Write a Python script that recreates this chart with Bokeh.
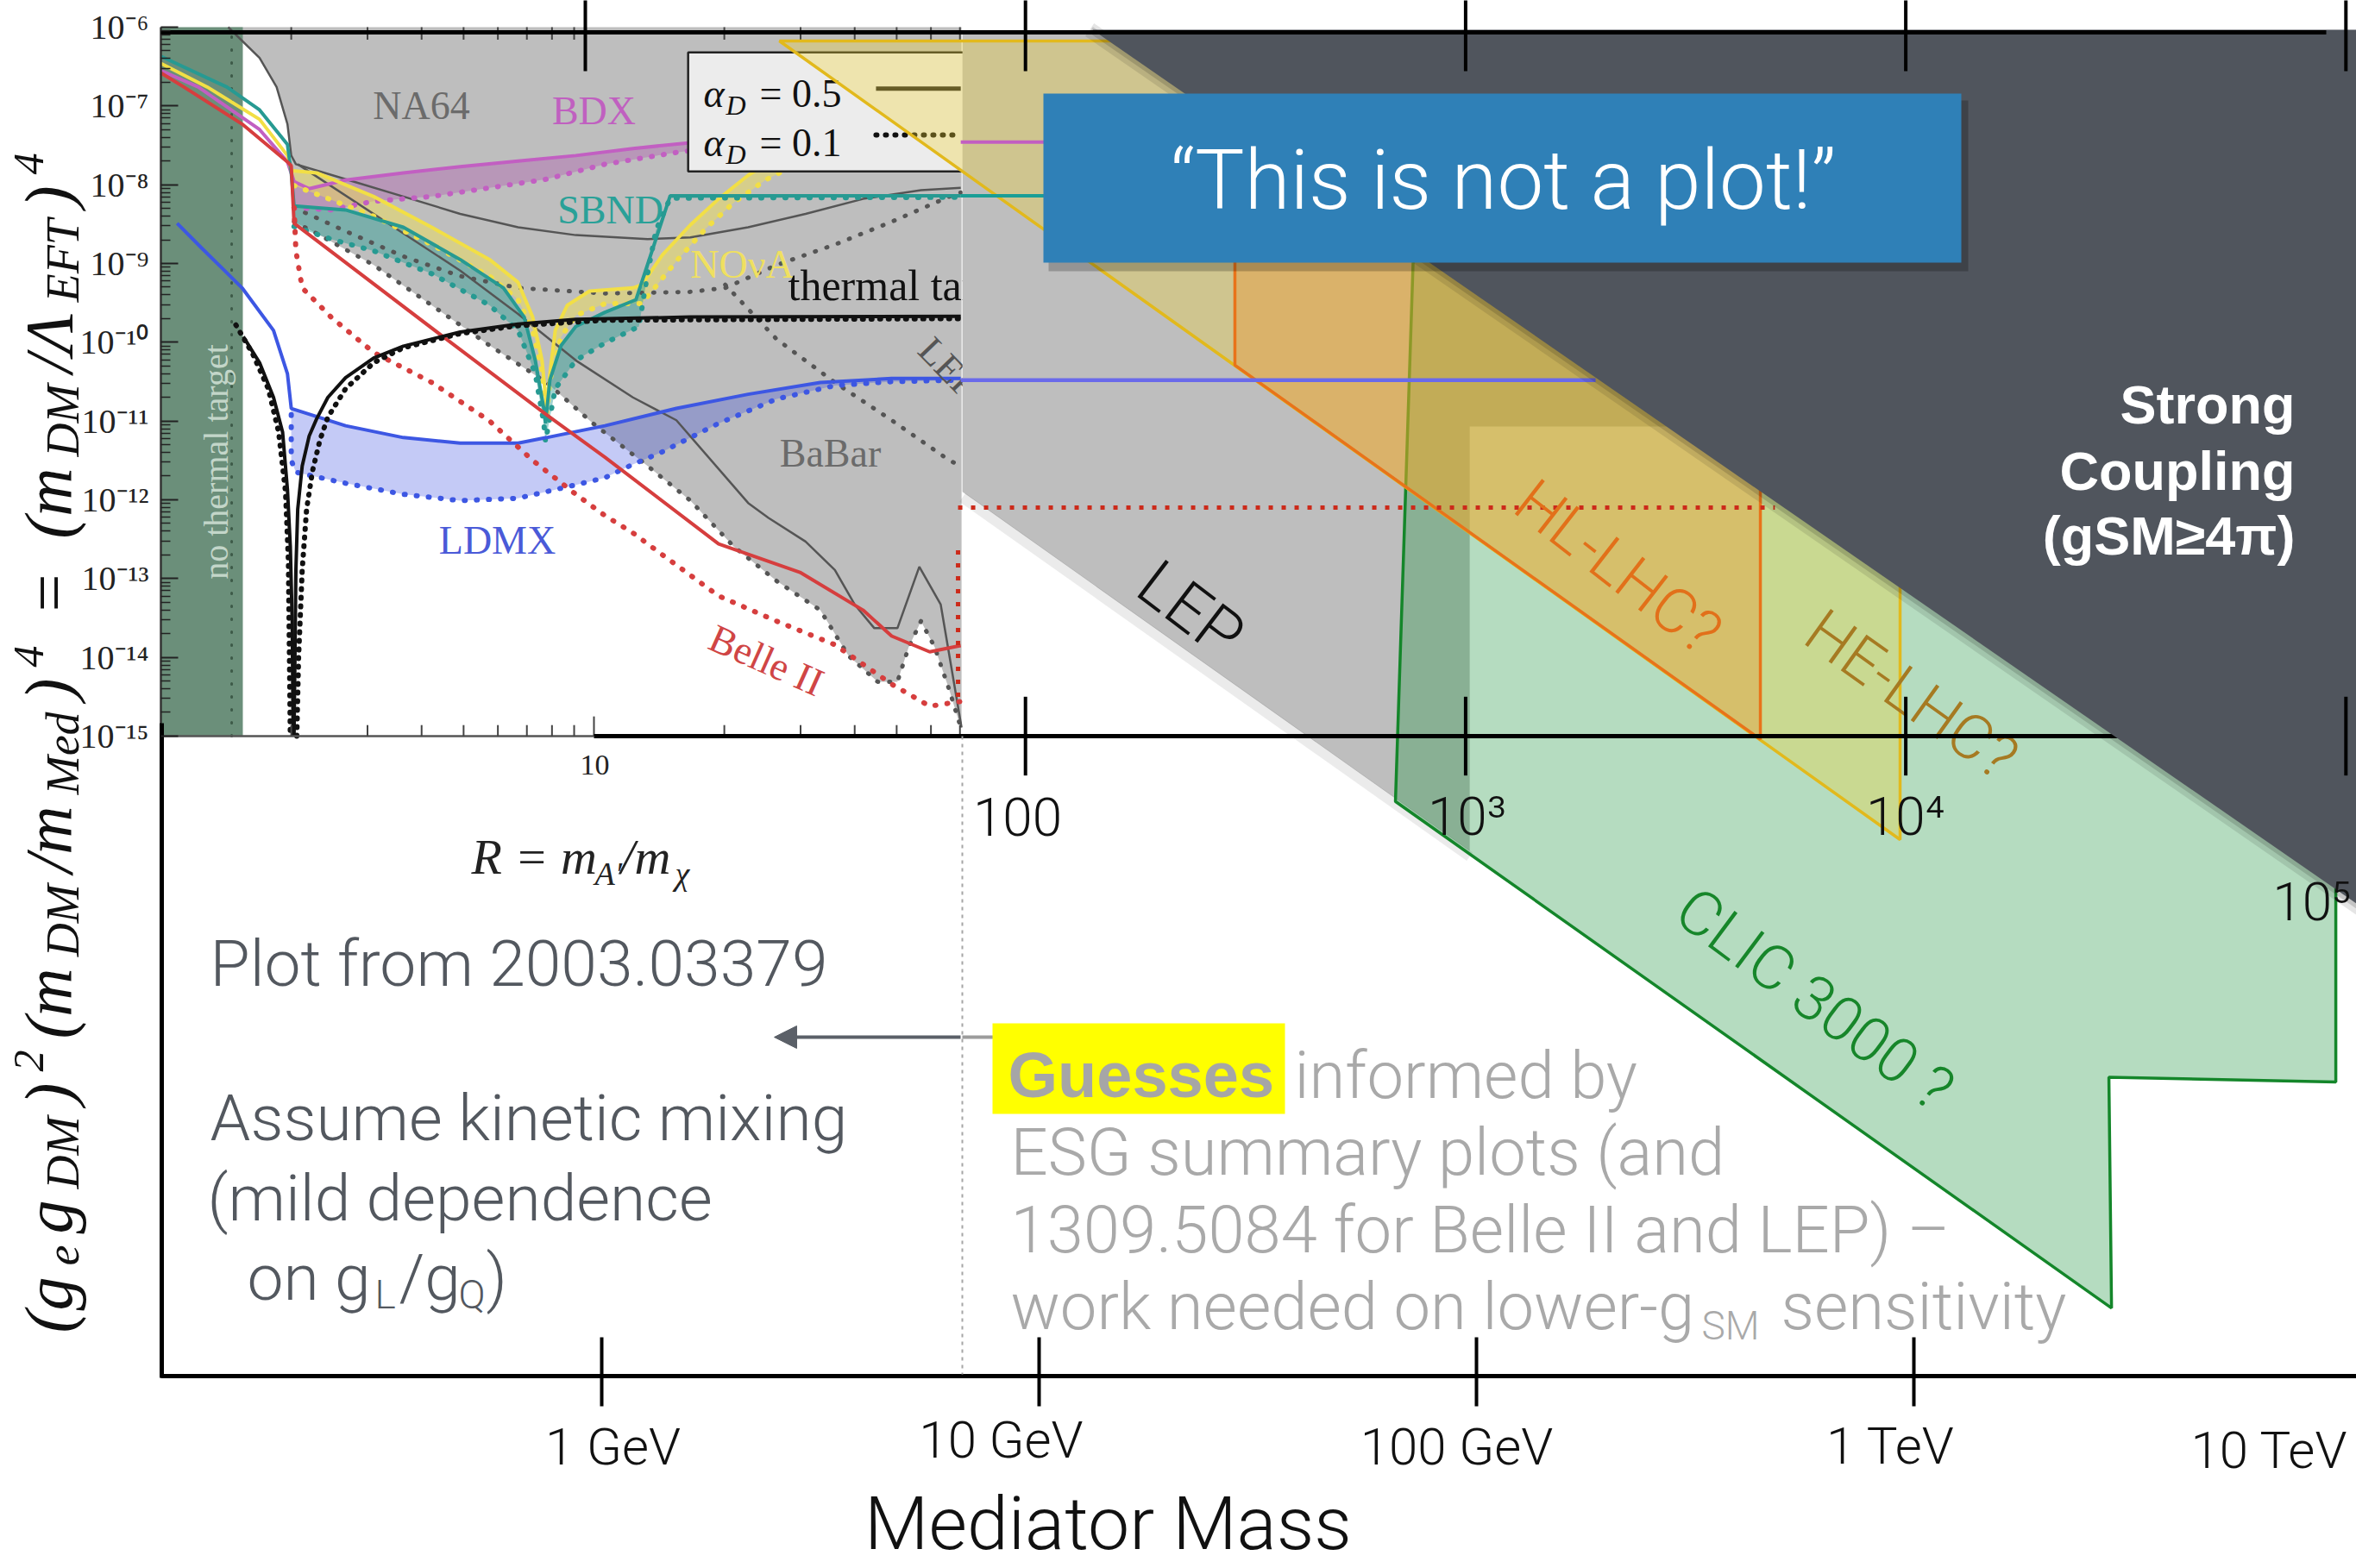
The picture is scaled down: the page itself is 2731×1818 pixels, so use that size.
import math

from bokeh.core.properties import value
from bokeh.embed import file_html
from bokeh.models import (Arrow, CustomJSTickFormatter, FixedTicker, LogAxis,
                          LogScale, NormalHead, Range1d)
from bokeh.plotting import figure
from bokeh.resources import INLINE

# ------------------------------------------------------------------
# Inset: thermal-target plane versus R = m_A'/m_chi
# every coupling is stored as log10[(g_e g_DM)^2 (m_DM/m_Med)^4]
# ------------------------------------------------------------------

# grey union of existing limits
excl_R = [1.43, 1.69, 1.85, 1.96, 2.00, 2.03, 2.29, 3.10, 4.22, 5.74, 7.77, 9.95, 13.3,
          16.7, 21.0, 26.4, 33.3, 38.7, 45.2, 50.2, 53.3, 56.9, 61.2, 66.2, 70.3, 70.6, 70.6]
excl_lg = [-6.00, -6.39, -6.76, -7.23, -7.63, -8.47, -8.62, -9.02, -9.53, -10.04, -10.51,
           -11.03, -11.57, -12.01, -12.59, -13.03, -13.40, -13.98, -14.31, -14.31, -13.87,
           -13.54, -13.87, -14.42, -14.89, -14.89, -6.00]

na64_R = [1.43, 1.69, 1.85, 1.96, 2.00, 2.05, 2.67, 3.63, 4.91, 6.68, 9.08, 13.3, 16.7,
          22.7, 30.8, 41.8, 56.9, 70.3]
na64_lg = [-6.00, -6.39, -6.76, -7.23, -7.63, -7.74, -7.93, -8.15, -8.37, -8.54, -8.64,
           -8.69, -8.67, -8.54, -8.37, -8.18, -8.07, -8.04]
na64_a01_R = [2.03, 2.67, 3.63, 4.91, 6.68, 10.6, 16.7, 20.1, 26.4, 36.0, 48.7, 66.2, 70.3]
na64_a01_lg = [-8.29, -8.59, -8.91, -9.16, -9.31, -9.38, -9.36, -9.31, -9.02, -8.76, -8.47,
               -8.15, -8.10]

babar_R = [2.07, 4.91, 6.68, 9.08, 12.3, 15.5, 22.7, 25.3, 30.8, 36.0, 40.0, 44.4, 50.2,
           56.4, 63.2, 70.6]
babar_lg = [-7.74, -9.09, -9.64, -10.23, -10.70, -10.99, -12.04, -12.23, -12.53, -12.89,
            -13.33, -13.63, -13.63, -12.85, -13.33, -14.89]
babar_a01_R = [20.1, 26.4, 36.0, 48.7, 66.2, 70.3]
babar_a01_lg = [-9.27, -9.96, -10.51, -10.99, -11.50, -11.57]

thermal_lo_R = [1.55, 1.69, 1.82, 1.91, 1.96, 1.99, 2.01, 2.02]
thermal_lo_lg = [-9.93, -10.26, -10.70, -11.14, -11.87, -12.59, -13.54, -15.00]
thermal_hi_R = [2.03, 2.04, 2.05, 2.07, 2.12, 2.20, 2.29, 2.43, 2.67, 3.10, 3.63, 4.91,
                6.68, 9.08, 16.7, 70.3]
thermal_hi_lg = [-15.00, -13.98, -12.89, -12.12, -11.57, -11.19, -10.97, -10.70, -10.45,
                 -10.20, -10.05, -9.87, -9.77, -9.71, -9.68, -9.67]
thermal_lo01_R = [1.49, 1.63, 1.77, 1.87, 1.94, 1.97, 1.99]
thermal_lo01_lg = [-9.78, -10.15, -10.59, -11.14, -11.90, -12.78, -15.00]
thermal_hi01_R = [2.06, 2.08, 2.12, 2.17, 2.24, 2.33, 2.43, 2.67, 3.10, 3.63, 4.91, 6.68,
                  10.6, 70.3]
thermal_hi01_lg = [-15.00, -13.98, -12.89, -12.12, -11.63, -11.24, -10.95, -10.59, -10.26,
                   -10.07, -9.89, -9.79, -9.72, -9.70]

belle_R = [1.00, 1.13, 1.54, 1.96, 2.00, 2.03, 4.56, 7.77, 10.6, 19.4, 29.9, 41.8, 48.7,
           59.6, 70.3]
belle_lg = [-6.58, -6.76, -7.23, -7.71, -7.76, -8.49, -9.96, -10.92, -11.46, -12.56,
            -12.92, -13.40, -13.73, -13.93, -13.85]
belle01_R = [2.03, 2.05, 2.12, 2.47, 3.10, 4.22, 5.74, 7.22, 9.08, 10.6, 12.3, 14.4, 19.4,
             26.4, 36.0, 48.7, 59.6, 70.3]
belle01_lg = [-8.29, -8.84, -9.31, -9.68, -10.13, -10.51, -11.00, -11.50, -11.93, -12.20,
              -12.42, -12.70, -13.22, -13.54, -13.84, -14.34, -14.62, -14.56]

ldmx_R = [1.09, 1.24, 1.54, 1.82, 1.96, 2.00, 2.67, 3.63, 4.91, 6.68, 7.77, 10.6, 15.5,
          22.7, 33.3, 48.7, 70.3]
ldmx_lg = [-8.49, -8.80, -9.31, -9.85, -10.40, -10.84, -11.06, -11.21, -11.28, -11.28,
           -11.21, -11.06, -10.84, -10.66, -10.51, -10.46, -10.46]
ldmx01_R = [2.00, 2.00, 2.05, 2.67, 3.63, 4.91, 6.68, 9.08, 10.6, 12.3, 14.4, 16.7, 19.4,
            26.4, 36.0, 48.7, 70.3]
ldmx01_lg = [-10.92, -11.50, -11.65, -11.79, -11.93, -12.01, -11.98, -11.81, -11.72,
             -11.55, -11.39, -11.21, -11.03, -10.72, -10.55, -10.50, -10.48]

bdx_R = [1.00, 1.22, 1.69, 1.96, 2.03, 2.20, 2.67, 3.63, 4.91, 6.68, 9.08, 12.3, 16.5,
         26.4, 70.3]
bdx_lg = [-6.55, -6.76, -7.30, -7.71, -7.96, -8.05, -7.94, -7.85, -7.77, -7.70, -7.63,
          -7.54, -7.47, -7.46, -7.46]
bdx01_R = [2.03, 2.47, 3.10, 4.22, 5.74, 7.77, 10.6, 15.5, 21.0, 70.3]
bdx01_lg = [-8.29, -8.32, -8.21, -8.15, -8.04, -7.93, -7.74, -7.59, -7.50, -7.46]

nova_R = [1.00, 1.28, 1.69, 1.96, 2.00, 2.29, 3.10, 4.22, 5.74, 6.68, 7.22, 7.59, 7.73,
          7.77, 7.91, 8.14, 8.68, 9.77, 12.3, 12.9, 14.4, 16.7, 19.4, 22.7, 26.4, 30.8,
          38.7, 70.3]
nova_lg = [-6.46, -6.76, -7.17, -7.63, -7.82, -7.85, -8.15, -8.54, -8.95, -9.24, -9.68,
           -10.23, -10.70, -10.92, -10.40, -9.85, -9.53, -9.35, -9.31, -9.27, -8.89,
           -8.51, -8.18, -7.88, -7.66, -7.52, -7.45, -7.43]
nova01_R = [2.03, 3.10, 4.22, 5.74, 6.68, 7.22, 7.59, 7.77, 7.91, 8.40, 9.08, 10.6, 12.9,
            15.5, 18.1, 21.0, 24.9, 29.9, 36.0, 41.8, 70.3]
nova01_lg = [-8.01, -8.40, -8.76, -9.16, -9.46, -9.85, -10.37, -10.92, -10.48, -9.93,
             -9.66, -9.51, -9.51, -8.97, -8.56, -8.23, -7.94, -7.72, -7.60, -7.52, -7.46]

sbnd_R = [1.00, 1.42, 1.69, 1.96, 2.00, 2.03, 2.67, 3.63, 4.91, 6.18, 6.90, 7.32, 7.66,
          7.73, 7.91, 8.40, 9.08, 10.6, 12.5, 15.0, 70.3]
sbnd_lg = [-6.37, -6.76, -7.05, -7.49, -7.85, -8.27, -8.32, -8.54, -8.95, -9.31, -9.68,
           -10.23, -10.84, -11.03, -10.48, -10.04, -9.80, -9.62, -9.46, -8.14, -8.14]
sbnd01_R = [2.03, 2.47, 3.10, 4.22, 5.74, 6.68, 7.32, 7.66, 7.73, 8.14, 9.08, 10.6, 12.7,
            13.3, 13.9, 15.0, 70.3]
sbnd01_lg = [-8.53, -8.69, -8.84, -9.13, -9.53, -9.85, -10.40, -11.03, -11.26, -10.59,
             -10.23, -10.01, -9.80, -9.13, -8.58, -8.17, -8.16]

no_target_R = [1.0, 1.546]
no_target_edge_R = 1.457

# high-R continuations drawn across the slide
bdx_tail_R, bdx_tail_lg = [70.3, 170.0], -7.46
sbnd_tail_R, sbnd_tail_lg = [70.3, 170.0], -8.14
ldmx_tail_R, ldmx_tail_lg = [70.3, 2055.0], -10.48
belle_tail_R, belle_tail_lg = [69.3, 5330.0], -12.10
belle_drop_R, belle_drop_lg = 69.3, [-12.64, -14.58]

# ------------------------------------------------------------------
# Slide plane: mediator mass [GeV] versus the same coupling
# ------------------------------------------------------------------
lep_M = [6.67, 6.67, 96.4, 96.4, 2285.0, 2285.0]
lep_lg = [-6.08, -11.90, -16.46, -11.07, -11.07, -6.08]
clic_M = [71.7, 65.2, 2830.0, 2791.0, 9218.0, 9218.0]
clic_lg = [-8.84, -15.83, -22.26, -19.33, -19.39, -8.84]
helhc_M = [2.544, 929.5, 929.5]
helhc_lg = [-6.175, -16.314, -6.175]
hllhc_M = [28.0, 28.0, 445.4, 445.4]
hllhc_lg = [-7.30, -10.29, -15.04, -7.30]
strong_M = [13.23, 19950.0, 19950.0]
strong_lg = [-6.033, -6.033, -18.23]

MASS_TICKS = [1, 10, 100, 1000]
MASS_LABELS = ["1 GeV", "10 GeV", "100 GeV", "1 TeV", "10 TeV"]
INSET_Y_TICKS = [10.0 ** e for e in range(-15, -5)]
INSET_Y_MINOR = [m * 10.0 ** e for e in range(-15, -6) for m in range(2, 10)]
INSET_R_MINOR = [2, 3, 4, 5, 6, 7, 8, 9, 20, 30, 40, 50, 60, 70]
SLIDE_R_TICKS = [10, 100, 1e3, 1e4, 1e5]
MID_R_TICKS = [100, 1e3, 1e4, 1e5]
MID_LABELS = ["100", "10³", "10⁴", "10⁵"]

# ------------------------------------------------------------------
# canvas geometry (the data frame fills the whole canvas)
# ------------------------------------------------------------------
W, H = 2731, 1818
MASS_LOG = (-1.3758, 4.0118)
COUP_LOG = (-25.566, -5.6606)
R_LOG = (-0.3705, 5.0697)
RS_LOG = (-0.3289, 5.0239)

SANS = "Roboto Light, Lato Light, Roboto, sans-serif"
SANS_B = "Liberation Sans"
SERIF = "Liberation Serif"


def slide_mass(px):
    return 10 ** (MASS_LOG[0] + px / W * (MASS_LOG[1] - MASS_LOG[0]))


def slide_coup(py):
    return 10 ** (COUP_LOG[1] - py / H * (COUP_LOG[1] - COUP_LOG[0]))


def pw(lgs):
    return [10 ** v for v in lgs]


p = figure(width=W, height=H, x_axis_type="log", y_axis_type="log",
           x_axis_location=None, y_axis_location=None,
           x_range=Range1d(10 ** MASS_LOG[0], 10 ** MASS_LOG[1]),
           y_range=Range1d(10 ** COUP_LOG[0], 10 ** COUP_LOG[1]),
           output_backend="svg", toolbar_location=None, title=None, min_border=0)
p.extra_x_ranges = {"R": Range1d(10 ** R_LOG[0], 10 ** R_LOG[1]),
                    "Rs": Range1d(10 ** RS_LOG[0], 10 ** RS_LOG[1])}
p.extra_x_scales = {"R": LogScale(), "Rs": LogScale()}
p.xgrid.visible = False
p.ygrid.visible = False
p.outline_line_color = None
p.background_fill_color = "white"
p.border_fill_color = "white"

# inset coupling axis, pinned to the inset's left edge
ya = LogAxis(fixed_location=slide_mass(186),
             ticker=FixedTicker(ticks=INSET_Y_TICKS, minor_ticks=INSET_Y_MINOR),
             formatter=CustomJSTickFormatter(code="""
const sup = {"-": "\\u207b", "0": "\\u2070", "1": "\\u00b9", "2": "\\u00b2", "3": "\\u00b3",
             "4": "\\u2074", "5": "\\u2075", "6": "\\u2076", "7": "\\u2077", "8": "\\u2078",
             "9": "\\u2079"};
const e = Math.round(Math.log10(tick));
return "10" + String(e).split("").map((c) => sup[c]).join("");
"""))
ya.major_label_text_font = SERIF
ya.major_label_text_font_size = "40px"
ya.major_label_text_color = "#222222"
ya.major_label_standoff = 14
ya.axis_line_color = None
ya.major_tick_line_color = "#222222"
ya.major_tick_line_width = 2
ya.major_tick_in = 20
ya.major_tick_out = 0
ya.minor_tick_line_color = "#222222"
ya.minor_tick_line_width = 1.5
ya.minor_tick_in = 11
ya.minor_tick_out = 0
p.add_layout(ya, "left")

# mediator-mass axis, pinned to the bottom of the slide
xa = LogAxis(fixed_location=slide_coup(1595),
             ticker=FixedTicker(ticks=MASS_TICKS, minor_ticks=[]),
             formatter=CustomJSTickFormatter(code="return ''"))
xa.axis_line_color = None
xa.major_tick_line_color = "black"
xa.major_tick_line_width = 4
xa.major_tick_in = 45
xa.major_tick_out = 35
xa.minor_tick_line_color = None
xa.major_label_text_font_size = "1px"
p.add_layout(xa, "below")


def put_text(px, py, s, size, color, font=SANS, style="normal", align="left",
             angle=0.0, alpha=1.0):
    p.text(x=[slide_mass(px)], y=[slide_coup(py)], text=[s], text_font=value(font),
           text_font_size=size, text_font_style=style, text_color=color,
           text_align=align, text_baseline="middle", angle=angle, text_alpha=alpha)


def band(sR, slg, dR, dlg, r_min=2.0):
    top = [(r, l) for r, l in zip(sR, slg) if r >= r_min]
    bot = [(r, l) for r, l in zip(dR, dlg) if r >= r_min][::-1]
    pts = top + bot
    return [q[0] for q in pts], [10 ** q[1] for q in pts]


DOT = "1 13"

# ---------------- inset ----------------
p.patch(excl_R, pw(excl_lg), fill_color="#bebebe", line_color=None, x_range_name="R")
p.quad(left=[no_target_R[0]], right=[no_target_R[1]], bottom=[1e-15], top=[1e-6],
       fill_color="#6b8f7a", line_color=None, x_range_name="R")
p.line([no_target_edge_R] * 2, [1e-15, 1e-6], line_color="#3d5a48", line_width=3,
       line_dash="1 14", line_cap="round", x_range_name="R")

for sR, slg, dR, dlg, col, a in [
        (bdx_R, bdx_lg, bdx01_R, bdx01_lg, "#b04fb0", 0.35),
        (nova_R, nova_lg, nova01_R, nova01_lg, "#f4e24e", 0.45),
        (sbnd_R, sbnd_lg, sbnd01_R, sbnd01_lg, "#2a9d94", 0.45),
        (ldmx_R, ldmx_lg, ldmx01_R, ldmx01_lg, "#3c50e0", 0.30)]:
    bx, by = band(sR, slg, dR, dlg)
    p.patch(bx, by, fill_color=col, fill_alpha=a, line_color=None, x_range_name="R")

GREY = "#555555"
p.line(na64_R, pw(na64_lg), line_color=GREY, line_width=2.5, x_range_name="R")
p.line(babar_R, pw(babar_lg), line_color=GREY, line_width=2.5, x_range_name="R")
p.line(na64_a01_R, pw(na64_a01_lg), line_color=GREY, line_width=5, line_dash=DOT,
       line_cap="round", x_range_name="R")
p.line(babar_a01_R, pw(babar_a01_lg), line_color=GREY, line_width=5, line_dash=DOT,
       line_cap="round", x_range_name="R")
p.line(excl_R[5:25], pw(excl_lg[5:25]), line_color=GREY, line_width=5, line_dash=DOT,
       line_cap="round", x_range_name="R")

for R, lg, R01, lg01, col in [
        (bdx_R, bdx_lg, bdx01_R, bdx01_lg, "#c25fc2"),
        (nova_R, nova_lg, nova01_R, nova01_lg, "#f2df45"),
        (sbnd_R, sbnd_lg, sbnd01_R, sbnd01_lg, "#279a92"),
        (ldmx_R, ldmx_lg, ldmx01_R, ldmx01_lg, "#3d57e3"),
        (belle_R, belle_lg, belle01_R, belle01_lg, "#d63e3e")]:
    p.line(R, pw(lg), line_color=col, line_width=4, x_range_name="R")
    p.line(R01, pw(lg01), line_color=col, line_width=6, line_dash=DOT, line_cap="round",
           x_range_name="R")

for R, lg in [(thermal_lo_R, thermal_lo_lg), (thermal_hi_R, thermal_hi_lg)]:
    p.line(R, pw(lg), line_color="#111111", line_width=4, x_range_name="R")
for R, lg in [(thermal_lo01_R, thermal_lo01_lg), (thermal_hi01_R, thermal_hi01_lg)]:
    p.line(R, pw(lg), line_color="#111111", line_width=6, line_dash="1 9",
           line_cap="round", x_range_name="R")

# legend box of the inset
p.quad(left=[16.5], right=[300.0], top=[10 ** -6.32], bottom=[10 ** -7.83],
       fill_color="#ececec", line_color="#222222", line_width=2.5, x_range_name="R")
p.line([44.8, 70.3], [10 ** -6.78] * 2, line_color="#222222", line_width=5, x_range_name="R")
p.line([44.8, 70.3], [10 ** -7.37] * 2, line_color="#111111", line_width=6, line_dash="1 10",
       line_cap="round", x_range_name="R")
for mid, txt in [(108, "= 0.5"), (165, "= 0.1")]:
    put_text(815, mid, "α", "46px", "#111111", SERIF, "italic")
    put_text(841, mid + 13, "D", "32px", "#111111", SERIF, "italic")
    put_text(880, mid, txt, "46px", "#111111", SERIF)

put_text(488, 122, "NA64", "46px", "#6b6b6b", SERIF, align="center")
put_text(688, 128, "BDX", "46px", "#c060c0", SERIF, align="center")
put_text(707, 243, "SBND", "46px", "#2aa198", SERIF, align="center")
put_text(860, 306, "NOνA", "46px", "#efe060", SERIF, align="center")
put_text(913, 330, "thermal target", "50px", "#111111", SERIF)
put_text(962, 525, "BaBar", "46px", "#6b6b6b", SERIF, align="center")
put_text(576, 626, "LDMX", "46px", "#4a5ad8", SERIF, align="center")
put_text(888, 765, "Belle II", "46px", "#d04545", SERIF, align="center", angle=-0.42)
put_text(1072, 398, "LEP", "44px", "#555555", SERIF, angle=-0.8)
put_text(250, 535, "no thermal target", "40px", "#c3d6c9", SERIF, align="center",
         angle=math.pi / 2)

# inset frame details: axis lines and ticks
p.line([slide_mass(186)] * 2, [slide_coup(31), 1e-15], line_color="#333333",
       line_width=2.5)
p.line([1.0, 10.0], [1e-15, 1e-15], line_color="#555555", line_width=2.5, x_range_name="R")
p.segment(x0=INSET_R_MINOR, x1=INSET_R_MINOR, y0=[1e-15] * len(INSET_R_MINOR),
          y1=[10 ** -14.86] * len(INSET_R_MINOR), line_color="#444444", line_width=2,
          x_range_name="R")
p.segment(x0=INSET_R_MINOR, x1=INSET_R_MINOR, y0=[1e-6] * len(INSET_R_MINOR),
          y1=[10 ** -6.16] * len(INSET_R_MINOR), line_color="#444444", line_width=2,
          x_range_name="R")
p.segment(x0=[10.0], x1=[10.0], y0=[1e-15], y1=[10 ** -14.75], line_color="#444444",
          line_width=2, x_range_name="R")
put_text(689, 886, "10", "34px", "#222222", SERIF, align="center")
put_text(546, 993, "R = m", "58px", "#222222", SERIF, "italic")
put_text(689, 1012, "A′", "38px", "#222222", SERIF, "italic")
put_text(719, 993, "/m", "58px", "#222222", SERIF, "italic")
put_text(782, 1012, "χ", "38px", "#222222", SERIF, "italic")

# ---------------- slide bands ----------------
p.patch(lep_M, pw(lep_lg), fill_color="#bebebe", line_color=None)
p.line(lep_M[1:3], [10 ** (v - 0.07) for v in lep_lg[1:3]], line_color="black",
       line_alpha=0.08, line_width=12)
p.patch(clic_M, pw(clic_lg), fill_color="#1f9540", fill_alpha=0.33, line_color="#14862a",
        line_width=3.5)
p.patch(helhc_M, pw(helhc_lg), fill_color="#f2d632", fill_alpha=0.33, line_color="#e2b91c",
        line_width=3.5)
p.patch(hllhc_M, pw(hllhc_lg), fill_color="#f08c1e", fill_alpha=0.33, line_color="#e8731a",
        line_width=3.5)

# inset curves continued to high R
p.line(bdx_tail_R, [10 ** bdx_tail_lg] * 2, line_color="#c25fc2", line_width=4,
       x_range_name="R")
p.line(sbnd_tail_R, [10 ** sbnd_tail_lg] * 2, line_color="#1a9e96", line_width=4,
       x_range_name="R")
p.line(ldmx_tail_R, [10 ** ldmx_tail_lg] * 2, line_color="#6a6aea", line_width=4.5,
       x_range_name="R")
p.line(belle_tail_R, [10 ** belle_tail_lg] * 2, line_color="#cc2a1a", line_width=5,
       line_dash="5 10", x_range_name="R")
p.line([belle_drop_R] * 2, pw(belle_drop_lg), line_color="#cc2a1a", line_width=5,
       line_dash="5 10", x_range_name="R")

put_text(1380, 706, "LEP", "76px", "#111111", SANS, align="center", angle=-0.65)
put_text(1875, 657, "HL-LHC?", "72px", "#e2701a", SANS, align="center", angle=-0.66)
put_text(2215, 805, "HE-LHC?", "72px", "#a67a22", SANS, align="center", angle=-0.62)
put_text(2103, 1158, "CLIC 3000 ?", "72px", "#17862a", SANS, align="center", angle=-0.64)

# slide axis through the inset floor
p.line([10.0, 10 ** R_LOG[1]], [1e-15, 1e-15], line_color="black", line_width=5,
       x_range_name="R")

# strong-coupling wedge with a soft edge
for shift, alpha, width in [(0.985, 0.10, 18), (0.992, 0.14, 8)]:
    p.line([strong_M[0] * shift, strong_M[2] * shift],
           [10 ** strong_lg[0], 10 ** strong_lg[2]], line_color="black",
           line_alpha=alpha, line_width=width)
p.patch(strong_M, pw(strong_lg), fill_color="#50555d", line_color=None)

# top slide axis
p.line([1.0, 1e5], [slide_coup(37)] * 2, line_color="black", line_width=5, x_range_name="R")
p.segment(x0=SLIDE_R_TICKS, x1=SLIDE_R_TICKS, y0=[10 ** (COUP_LOG[1] + 0.2)] * 5,
          y1=[slide_coup(82)] * 5, line_color="black", line_width=4, x_range_name="Rs")
p.segment(x0=MID_R_TICKS, x1=MID_R_TICKS, y0=[10 ** -14.5] * 4, y1=[10 ** -15.5] * 4,
          line_color="black", line_width=4, x_range_name="Rs")
for (px, py, al), s in zip([(1179, 946, "center"), (1700, 946, "center"),
                            (2208, 946, "center"), (2725, 1045, "right")], MID_LABELS):
    put_text(px, py, s, "62px", "#111111", SANS, align=al)

# callout box
p.quad(left=[slide_mass(1215)], right=[slide_mass(2281)], top=[slide_coup(116)],
       bottom=[slide_coup(314)], fill_color="black", fill_alpha=0.22, line_color=None)
p.quad(left=[slide_mass(1209)], right=[slide_mass(2273)], top=[slide_coup(108)],
       bottom=[slide_coup(304)], fill_color="#2f80b7", line_color=None)
put_text(1742, 208, "“This is not a plot!”", "96px", "white", SANS, align="center")

for py, s in [(468, "Strong"), (545, "Coupling"), (620, "(gSM≥4π)")]:
    put_text(2660, py, s, "63px", "white", SANS_B, "bold", align="right")

# lower half of the slide
p.line([slide_mass(187)] * 2, [slide_coup(838), slide_coup(1597)], line_color="black",
       line_width=5)
p.line([slide_mass(186), slide_mass(2731)], [slide_coup(1595)] * 2, line_color="black",
       line_width=5)
p.line([slide_mass(1115)] * 2, [1e-15, slide_coup(1593)], line_color="#a5a5a5",
       line_width=2, line_dash="4 5")
p.line([slide_mass(1115), slide_mass(1152)], [slide_coup(1202)] * 2, line_color="#9c9c9c",
       line_width=4)
p.add_layout(Arrow(end=NormalHead(size=26, fill_color="#5b6068", line_color="#5b6068"),
                   x_start=slide_mass(1113), y_start=slide_coup(1202),
                   x_end=slide_mass(897), y_end=slide_coup(1202),
                   line_color="#5b6068", line_width=4))

LEFT_C = "#53585f"
put_text(243, 1116, "Plot from 2003.03379", "75px", LEFT_C)
put_text(243, 1295, "Assume kinetic mixing", "75px", LEFT_C)
put_text(240, 1388, "(mild dependence", "75px", LEFT_C)
put_text(286, 1480, "on g", "75px", LEFT_C)
put_text(434, 1500, "L", "46px", LEFT_C)
put_text(462, 1480, "/g", "75px", LEFT_C)
put_text(531, 1500, "Q", "46px", LEFT_C)
put_text(563, 1480, ")", "75px", LEFT_C)

RIGHT_C = "#a9a9a9"
p.quad(left=[slide_mass(1150)], right=[slide_mass(1489)], top=[slide_coup(1186)],
       bottom=[slide_coup(1291)], fill_color="#ffff00", line_color=None)
put_text(1168, 1246, "Guesses", "74px", "#a6a6a6", SANS_B, "bold")
put_text(1500, 1246, "informed by", "76px", RIGHT_C)
put_text(1171, 1335, "ESG summary plots (and", "76px", RIGHT_C)
put_text(1171, 1425, "1309.5084 for Belle II and LEP) –", "76px", RIGHT_C)
put_text(1171, 1514, "work needed on lower-g", "76px", RIGHT_C)
put_text(1972, 1536, "SM", "46px", RIGHT_C)
put_text(2064, 1514, "sensitivity", "76px", RIGHT_C)

# mass-axis labels and title
for (px, py), s in zip([(710, 1677), (1160, 1669), (1688, 1677), (2191, 1676),
                        (2630, 1681)], MASS_LABELS):
    put_text(px, py, s, "60px", "#111111", SANS, align="center")
put_text(1284, 1766, "Mediator Mass", "86px", "#111111", SANS, align="center")

# vertical axis title, typeset piece by piece
ADV = {"(": .333, ")": .333, "g": .5, "e": .444, "D": .722, "M": .833, "m": .722,
       "/": .278, "d": .5, "E": .611, "F": .611, "T": .556, "Λ": .611, "2": .5, "4": .5,
       "=": .675}
Y_TITLE = [("(g", "main"), ("e", "sub"), ("g", "main"), ("DM", "sub"), (")", "main"),
           ("2", "sup"), ("(m", "main"), ("DM", "sub"), ("/m", "main"), ("Med", "sub"),
           (")", "main"), ("4", "sup"), ("=", "eq"), ("(m", "main"), ("DM", "sub"),
           ("/Λ", "main"), ("EFT", "sub"), (")", "main"), ("4", "sup")]
SIZE = {"main": 78, "eq": 78, "sub": 54, "sup": 50}
MIDLINE = {"main": 56, "eq": 56, "sub": 72, "sup": 33}
pos = 1545.0
for s, kind in Y_TITLE:
    if kind == "eq":
        pos -= 26
    put_text(MIDLINE[kind], pos, s, f"{SIZE[kind]}px", "#111111", SERIF,
             "normal" if kind == "eq" else "italic", angle=math.pi / 2)
    pos -= sum(ADV[c] for c in s) * SIZE[kind] + (32 if kind == "eq" else 13)

open("out.html", "w").write(file_html(p, INLINE))
